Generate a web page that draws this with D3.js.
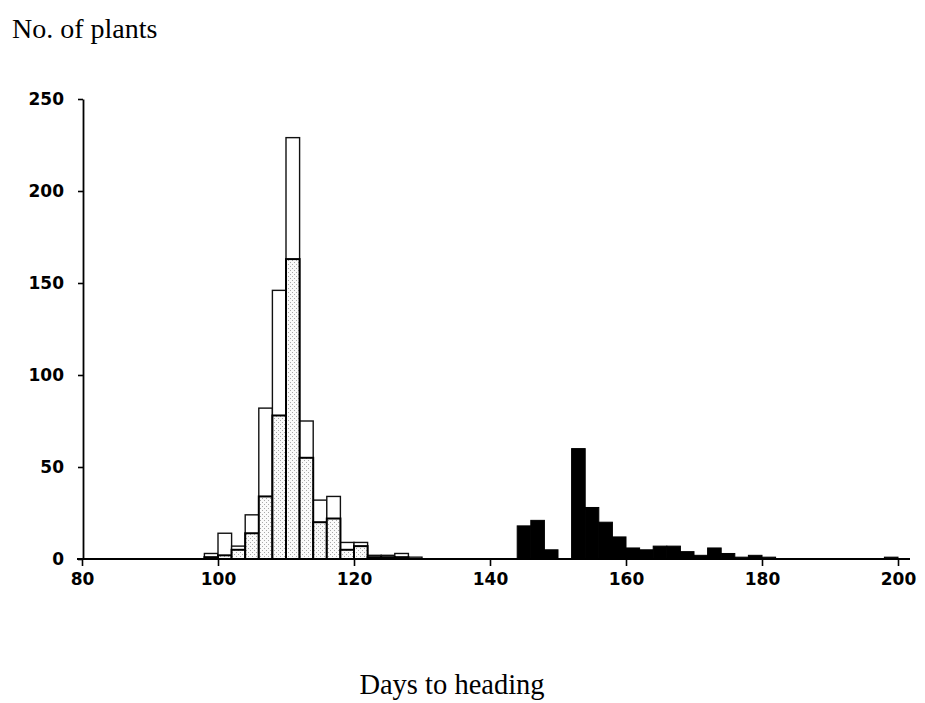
<!DOCTYPE html>
<html>
<head>
<meta charset="utf-8">
<script src="https://cdn.jsdelivr.net/npm/d3@7"></script>
<style>
  html, body { margin: 0; padding: 0; background: #fff; }
  svg { display: block; }
</style>
</head>
<body>
<svg id="chart" width="925" height="703"></svg>
<script>
// ---- data (bins are 2 days wide; value = bin start day) ----
const binWidth = 2;
const earlyBins     = [98, 100, 102, 104, 106, 108, 110, 112, 114, 116, 118, 120, 122, 124, 126, 128];
const openCounts    = [3,  14,  7,   24,  82,  146, 229, 75,  32,  34,  9,   9,   2,   2,   3,   1];
const dottedCounts  = [1,  2,   5,   14,  34,  78,  163, 55,  20,  22,  5,   7,   1,   1,   1,   0];
const lateBins      = [144, 146, 148, 150, 152, 154, 156, 158, 160, 162, 164, 166, 168, 170, 172, 174, 176, 178, 180, 198];
const blackCounts   = [18,  21,  5,   0,   60,  28,  20,  12,  6,   5,   7,   7,   4,   2,   6,   3,   1,   2,   1,   1];
const xTicks = [80, 100, 120, 140, 160, 180, 200];
const yTicks = [0, 50, 100, 150, 200, 250];
const yTitle = "No. of plants";
const xTitle = "Days to heading";

const svg = d3.select("#chart");

const x = d3.scaleLinear().domain([80, 200]).range([82, 898]);
const y = d3.scaleLinear().domain([0, 250]).range([559, 99]);

// stipple pattern
const defs = svg.append("defs");
const pat = defs.append("pattern")
  .attr("id", "stipple").attr("patternUnits", "userSpaceOnUse")
  .attr("width", 4).attr("height", 4);
pat.append("rect").attr("width", 4).attr("height", 4).attr("fill", "#fafafa");
[[0,0],[2,2]].forEach(([a,b]) =>
  pat.append("rect").attr("x", a).attr("y", b).attr("width", 1).attr("height", 1).attr("fill", "#a8a8a8"));

const early = earlyBins.map((d, i) => ({ d, open: openCounts[i], dotted: dottedCounts[i] }));
const late = lateBins.map((d, i) => ({ d, v: blackCounts[i] })).filter(e => e.v > 0);

// open (white) bars
svg.append("g").selectAll("rect").data(early).join("rect")
  .attr("x", e => x(e.d))
  .attr("width", e => x(e.d + binWidth) - x(e.d))
  .attr("y", e => y(e.open))
  .attr("height", e => y(0) - y(e.open))
  .attr("fill", "#fff")
  .attr("stroke", "#111")
  .attr("stroke-width", 1.4);

// stippled bars
svg.append("g").selectAll("rect").data(early.filter(e => e.dotted > 0)).join("rect")
  .attr("x", e => x(e.d))
  .attr("width", e => x(e.d + binWidth) - x(e.d))
  .attr("y", e => y(e.dotted))
  .attr("height", e => y(0) - y(e.dotted))
  .attr("fill", "url(#stipple)")
  .attr("stroke", "#000")
  .attr("stroke-width", 2);

// black bars
svg.append("g").selectAll("rect").data(late).join("rect")
  .attr("x", e => x(e.d))
  .attr("width", e => x(e.d + binWidth) - x(e.d))
  .attr("y", e => y(e.v))
  .attr("height", e => y(0) - y(e.v))
  .attr("fill", "#000")
  .attr("stroke", "#000")
  .attr("stroke-width", 1);

// axes
const axisFont = "'DejaVu Sans', sans-serif";

const gx = svg.append("g").attr("transform", `translate(0,${y(0)})`)
  .call(d3.axisBottom(x).tickValues(xTicks).tickSize(7).tickSizeOuter(0).tickPadding(7));
gx.select(".domain").remove();
gx.selectAll(".tick line").attr("stroke", "#000").attr("stroke-width", 1.6);
gx.selectAll(".tick text").attr("font-family", axisFont).attr("font-weight", "bold")
  .attr("font-size", 17).attr("fill", "#000");
gx.append("line")
  .attr("x1", x(80) - 5).attr("x2", x(200) + 12)
  .attr("y1", 0).attr("y2", 0)
  .attr("stroke", "#000").attr("stroke-width", 1.8);

const gy = svg.append("g").attr("transform", `translate(${x(80) + 1},0)`)
  .call(d3.axisLeft(y).tickValues(yTicks).tickSize(5).tickSizeOuter(0).tickPadding(14));
gy.select(".domain").attr("stroke", "#000").attr("stroke-width", 1.8);
gy.selectAll(".tick line").attr("stroke", "#000").attr("stroke-width", 1.6);
gy.selectAll(".tick text").attr("font-family", axisFont).attr("font-weight", "bold")
  .attr("font-size", 17).attr("fill", "#000");

// titles
svg.append("text")
  .attr("x", 12).attr("y", 38)
  .attr("font-family", "'Liberation Serif', 'Times New Roman', serif")
  .attr("font-size", 28).attr("fill", "#000")
  .text(yTitle);

svg.append("text")
  .attr("x", 452).attr("y", 694)
  .attr("text-anchor", "middle")
  .attr("font-family", "'Liberation Serif', 'Times New Roman', serif")
  .attr("font-size", 28.5).attr("fill", "#000")
  .text(xTitle);
</script>
</body>
</html>
